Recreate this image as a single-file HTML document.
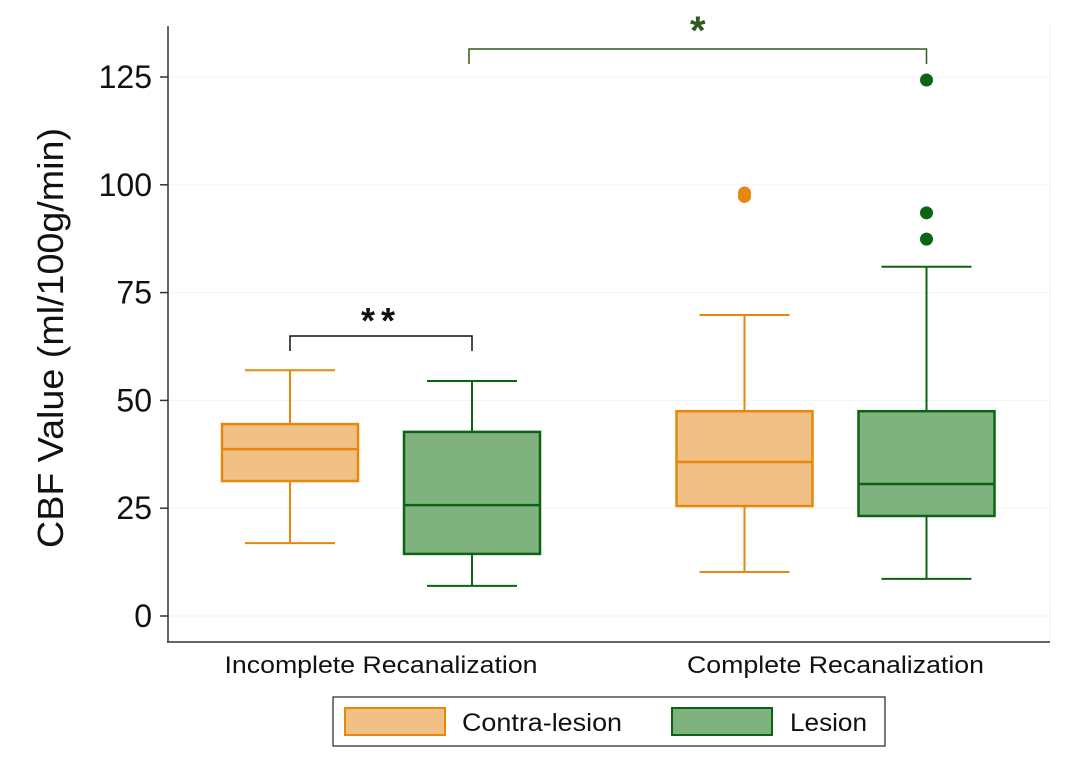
<!DOCTYPE html>
<html><head><meta charset="utf-8"><style>
body{margin:0;background:#fff;}
svg{font-family:"Liberation Sans",sans-serif;display:block}
</style></head><body>
<svg id="chart" width="1078" height="784" viewBox="0 0 1078 784" xmlns="http://www.w3.org/2000/svg"></svg>
<script>
const categories = ["Incomplete Recanalization","Complete Recanalization"];
const seriesNames = ["Contra-lesion","Lesion"];
// [low whisker, Q1, median, Q3, high whisker]
const contraStats = [[16.9,31.3,38.7,44.5,57],[10.2,25.5,35.7,47.5,69.8]];
const lesionStats = [[7,14.4,25.7,42.7,54.5],[8.6,23.2,30.6,47.5,81]];
const contraOutliers = [[],[97.3,98.1]];
const lesionOutliers = [[],[124.3,93.5,87.4]];
const yTicks = [0,25,50,75,100,125];

const svg = document.getElementById('chart');
const NS = 'http://www.w3.org/2000/svg';
function y(v){return 616 - v*4.312;}
const groupCenters=[381,835.5], offset=91, boxW=136, capW=90;
function x(g,s){return groupCenters[g] + (s===0?-offset:offset);}
function mk(tag,attrs,parent){const e=document.createElementNS(NS,tag);for(const k in attrs)e.setAttribute(k,attrs[k]);(parent||svg).appendChild(e);return e;}

yTicks.forEach(t=>{
  const g=mk('line',{x1:168,x2:1050,y1:y(t),y2:y(t),stroke:'#f2f4f4','stroke-width':1});
  
  
  const tk=mk('line',{x1:160,x2:168,y1:y(t),y2:y(t),stroke:'#333','stroke-width':1.5});
  
  
  const tx=mk('text',{x:152,y:y(t)+11,'text-anchor':'end','font-size':32,fill:'#111'});
  tx.textContent=t;
  
  
});
mk('line',{x1:1050,x2:1050,y1:26,y2:642,stroke:'#eef2f2','stroke-width':1});
const ya=mk('line',{x1:168,x2:168,y1:26,y2:642,stroke:'#333','stroke-width':1.5});

const xa=mk('line',{x1:167,x2:1050,y1:642,y2:642,stroke:'#333','stroke-width':1.5});


const yt=mk('text',{x:0,y:0,transform:'translate(63,338) rotate(-90)','text-anchor':'middle','font-size':36,fill:'#111',textLength:420,lengthAdjust:'spacingAndGlyphs'});
yt.textContent='CBF Value (ml/100g/min)';



categories.forEach((c,g)=>{
  const t=mk('text',{x:groupCenters[g],y:673,'text-anchor':'middle','font-size':24,fill:'#111',textLength:(g===0?313:297),lengthAdjust:'spacingAndGlyphs'});
  t.textContent=c;
  
  
});

const styles=[{fill:'#f1c084',stroke:'#e8870e'},{fill:'#80b27f',stroke:'#0b6413'}];
[contraStats,lesionStats].forEach((stats,s)=>{
  stats.forEach((st,g)=>{
    const cx=x(g,s), st_=styles[s];
    const grp=mk('g',{});
    
    
    mk('line',{x1:cx,x2:cx,y1:y(st[4]),y2:y(st[3]),stroke:st_.stroke,'stroke-width':2},grp);
    mk('line',{x1:cx,x2:cx,y1:y(st[1]),y2:y(st[0]),stroke:st_.stroke,'stroke-width':2},grp);
    mk('line',{x1:cx-capW/2,x2:cx+capW/2,y1:y(st[4]),y2:y(st[4]),stroke:st_.stroke,'stroke-width':2},grp);
    mk('line',{x1:cx-capW/2,x2:cx+capW/2,y1:y(st[0]),y2:y(st[0]),stroke:st_.stroke,'stroke-width':2},grp);
    mk('rect',{x:cx-boxW/2,y:y(st[3]),width:boxW,height:y(st[1])-y(st[3]),fill:st_.fill,stroke:st_.stroke,'stroke-width':2.5},grp);
    mk('line',{x1:cx-boxW/2,x2:cx+boxW/2,y1:y(st[2]),y2:y(st[2]),stroke:st_.stroke,'stroke-width':2.5},grp);
  });
});
[contraOutliers,lesionOutliers].forEach((outs,s)=>{
  outs.forEach((arr,g)=>{
    arr.forEach(v=>{
      const c=mk('circle',{cx:x(g,s),cy:y(v),r:6.5,fill:styles[s].stroke});
      
      
    });
  });
});

function bracket(x1,x2,yy,col,label,ty,fs,ls,name){
  const g=mk('g',{});
  
  
  mk('path',{d:`M${x1},${yy+15} V${yy} H${x2} V${yy+15}`,fill:'none',stroke:col,'stroke-width':1.5},g);
  const t=mk('text',{x:(x1+x2)/2,y:ty,'text-anchor':'middle','font-size':fs,fill:col,'letter-spacing':ls,'font-weight':'bold'},g);
  t.textContent=label;
}
bracket(x(0,0),x(0,1),336,'#111','**',333,36,6,'significance-bracket-incomplete');
bracket(x(0,1)-3,x(1,1),49,'#2f5a1c','*',44,40,0,'significance-bracket-lesion');

const lg=mk('g',{});


mk('rect',{x:333,y:697,width:552,height:49,fill:'#fff',stroke:'#222','stroke-width':1.2},lg);
[[345,462,160],[672,790,77]].forEach((p,i)=>{
  const e=mk('g',{},lg);
  
  
  mk('rect',{x:p[0],y:708,width:100,height:27,fill:styles[i].fill,stroke:styles[i].stroke,'stroke-width':2},e);
  const t=mk('text',{x:p[1],y:731,'font-size':25,fill:'#111',textLength:p[2],lengthAdjust:'spacingAndGlyphs'},e);
  t.textContent=seriesNames[i];
});
</script>
</body></html>
